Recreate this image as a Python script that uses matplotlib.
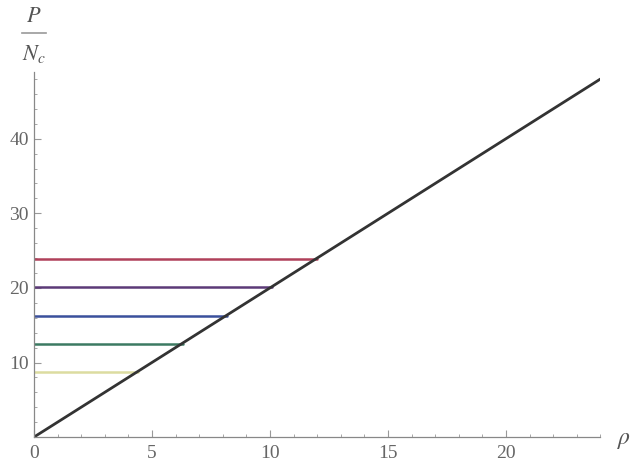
import numpy as np
import matplotlib
matplotlib.use("Agg")
import matplotlib.pyplot as plt
from matplotlib.ticker import MultipleLocator

plt.rcParams['font.family'] = ['Liberation Serif', 'DejaVu Serif']
plt.rcParams['mathtext.fontset'] = 'stix'

# diagonal P/Nc = 2*rho
rho_line = [0, 24]
p_line = [0, 48]

# plateau levels and colours
levels = [8.7, 12.5, 16.3, 20.1, 23.9]
rho_end = [4.4, 6.3, 8.2, 10.1, 12.0]
colors = ['#dcdca0', '#3c7a62', '#3a509c', '#5c3a78', '#b0405a']

fig = plt.figure(figsize=(6.4, 4.65), dpi=100)
ax = fig.add_axes([0.053, 0.06, 0.885, 0.786])

for lev, xe, c in zip(levels, rho_end, colors):
    ax.plot([0, xe], [lev, lev], color=c, lw=1.8, solid_capstyle='round')
ax.plot(rho_line, p_line, color='#333333', lw=2.0, solid_capstyle='round')

ax.set_xlim(0, 24)
ax.set_ylim(0, 49)
for s in ['top', 'right']:
    ax.spines[s].set_visible(False)
for s in ['left', 'bottom']:
    ax.spines[s].set_color('#888888')
    ax.spines[s].set_linewidth(0.9)

ax.xaxis.set_major_locator(MultipleLocator(5))
ax.xaxis.set_minor_locator(MultipleLocator(1))
ax.yaxis.set_major_locator(MultipleLocator(10))
ax.yaxis.set_minor_locator(MultipleLocator(2))
ax.tick_params(which='both', direction='in', color='#999999', labelsize=14,
               labelcolor='#666666')
ax.tick_params(which='major', length=5)
ax.tick_params(which='minor', length=2.5)
ax.set_yticks([10, 20, 30, 40])
ax.tick_params(axis='x', pad=6)

ax.text(24.7, -0.5, r'$\rho$', fontsize=17, color='#555555', va='center',
        ha='left', clip_on=False)
ax.text(0, 56.2, r'$P$', fontsize=16, color='#555555', ha='center',
        va='center', clip_on=False)
ax.plot([-0.5, 0.5], [54.2, 54.2], color='#999999', lw=1.2, clip_on=False)
ax.text(0, 51.4, r'$N_c$', fontsize=16, color='#555555', ha='center',
        va='center', clip_on=False)

fig.savefig('out.png', dpi=100)
